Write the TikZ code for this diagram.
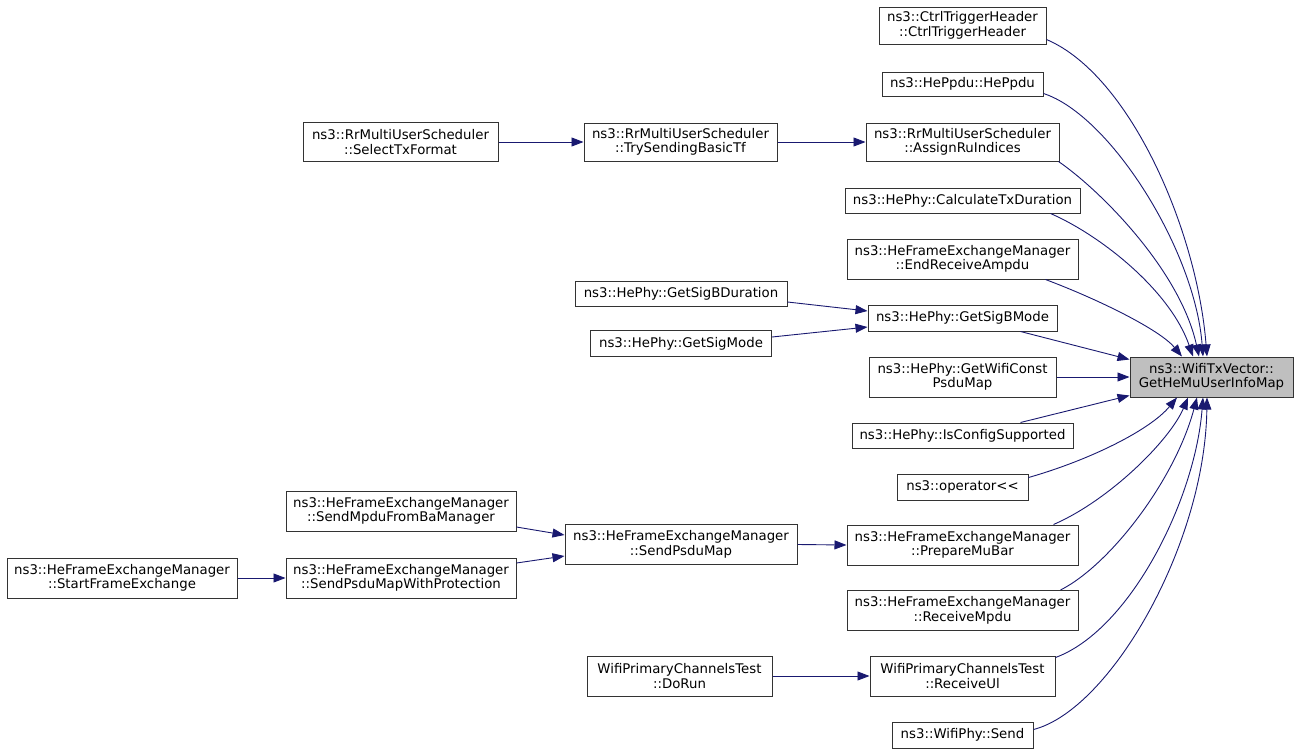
\documentclass[tikz,border=0pt]{standalone}
\usepackage{fontspec}
\setmainfont{DejaVu Sans}
\usetikzlibrary{arrows.meta}
\definecolor{edgecol}{HTML}{191970}
\definecolor{bordercol}{HTML}{333333}
\definecolor{tgtfill}{HTML}{BFBFBF}
\begin{document}
\begin{tikzpicture}[x=1pt,y=-1pt,
  box/.style={draw=bordercol,line width=1pt,fill=white,inner sep=0pt,align=center,
    font=\fontsize{13.3}{14.5}\selectfont,text=black},
  tbox/.style={box,fill=tgtfill},
  edge/.style={draw=edgecol,line width=0.9pt,-{Triangle[length=12pt,width=9pt]}}]
\useasboundingbox (0,0) rectangle (1299,753);
% right column (rank 1)
\node[box,minimum width=167pt,minimum height=37pt] (ctrl) at (962.5,25.5) {ns3::CtrlTriggerHeader\\::CtrlTriggerHeader};
\node[box,minimum width=161pt,minimum height=24pt] (heppdu) at (962.5,84) {ns3::HePpdu::HePpdu};
\node[box,minimum width=193pt,minimum height=38pt] (assign) at (962.5,142) {ns3::RrMultiUserScheduler\\::AssignRuIndices};
\node[box,minimum width=235pt,minimum height=25pt] (calc) at (962.5,200.5) {ns3::HePhy::CalculateTxDuration};
\node[box,minimum width=231pt,minimum height=40pt] (endrec) at (962.5,259) {ns3::HeFrameExchangeManager\\::EndReceiveAmpdu};
\node[box,minimum width=189pt,minimum height=26pt] (sigb) at (962.5,318) {ns3::HePhy::GetSigBMode};
\node[box,minimum width=187pt,minimum height=40pt] (wconst) at (962.5,377) {ns3::HePhy::GetWifiConst\\PsduMap};
\node[box,minimum width=221pt,minimum height=25pt] (iscfg) at (962.5,435.5) {ns3::HePhy::IsConfigSupported};
\node[box,minimum width=131pt,minimum height=26pt] (op) at (962.5,487) {ns3::operator<{}<};
\node[box,minimum width=231pt,minimum height=40pt] (prep) at (962.5,545) {ns3::HeFrameExchangeManager\\::PrepareMuBar};
\node[box,minimum width=231pt,minimum height=40pt] (recv) at (962.5,610.5) {ns3::HeFrameExchangeManager\\::ReceiveMpdu};
\node[box,minimum width=185pt,minimum height=40pt] (recvul) at (962.5,676) {WifiPrimaryChannelsTest\\::ReceiveUl};
\node[box,minimum width=141pt,minimum height=26pt] (send) at (962.5,735) {ns3::WifiPhy::Send};
% target
\node[tbox,minimum width=163pt,minimum height=40pt] (tgt) at (1211.5,377) {ns3::WifiTxVector::\\GetHeMuUserInfoMap};
% rank 2
\node[box,minimum width=193pt,minimum height=38pt] (trysend) at (680.5,142) {ns3::RrMultiUserScheduler\\::TrySendingBasicTf};
\node[box,minimum width=212pt,minimum height=25pt] (sigbdur) at (681,293.5) {ns3::HePhy::GetSigBDuration};
\node[box,minimum width=181pt,minimum height=26pt] (sigmode) at (681,343.5) {ns3::HePhy::GetSigMode};
\node[box,minimum width=232pt,minimum height=40pt] (sendpsdu) at (681,544.5) {ns3::HeFrameExchangeManager\\::SendPsduMap};
\node[box,minimum width=185pt,minimum height=40pt] (dorun) at (679.5,676) {WifiPrimaryChannelsTest\\::DoRun};
% rank 3
\node[box,minimum width=195pt,minimum height=39pt] (selecttx) at (400.5,142) {ns3::RrMultiUserScheduler\\::SelectTxFormat};
\node[box,minimum width=230pt,minimum height=40pt] (sendmpdu) at (401,511) {ns3::HeFrameExchangeManager\\::SendMpduFromBaManager};
\node[box,minimum width=230pt,minimum height=40pt] (sendprot) at (401,578) {ns3::HeFrameExchangeManager\\::SendPsduMapWithProtection};
% rank 4
\node[box,minimum width=230pt,minimum height=40pt] (startfe) at (122,578) {ns3::HeFrameExchangeManager\\::StartFrameExchange};

% edges into target (top)
\draw[edge] ([yshift=5pt]ctrl.south east) .. controls (1130,75) and (1197,230) .. ([xshift=-4.5pt]tgt.north);
\draw[edge] ([yshift=3pt]heppdu.south east) .. controls (1110,115) and (1195,250) .. ([xshift=-8.5pt]tgt.north);
\draw[edge] ([xshift=-1pt]assign.south east) .. controls (1100,190) and (1180,270) .. ([xshift=-12.5pt]tgt.north);
\draw[edge] ([xshift=-30pt]calc.south east) .. controls (1100,235) and (1170,290) .. ([xshift=-18.5pt]tgt.north);
\draw[edge] ([xshift=-33pt]endrec.south east) .. controls (1100,300) and (1160,330) .. ([xshift=-29.5pt]tgt.north);
% edges into target (left)
\draw[edge] ([xshift=-37pt]sigb.south east) -- ([yshift=-3pt]tgt.north west);
\draw[edge] (wconst.east) -- (tgt.west);
\draw[edge] ([xshift=-53pt]iscfg.north east) -- ([yshift=2pt]tgt.south west);
% edges into target (bottom)
\draw[edge] ([yshift=-4pt]op.north east) .. controls (1090,460) and (1150,430) .. ([xshift=-34.5pt]tgt.south);
\draw[edge] ([xshift=-25pt]prep.north east) .. controls (1110,500) and (1170,440) .. ([xshift=-23.5pt]tgt.south);
\draw[edge] ([xshift=-18pt]recv.north east) .. controls (1110,565) and (1175,480) .. ([xshift=-14.5pt]tgt.south);
\draw[edge] ([yshift=-2pt]recvul.north east) .. controls (1130,630) and (1195,500) .. ([xshift=-8.5pt]tgt.south);
\draw[edge] ([yshift=-8pt]send.north east) .. controls (1110,710) and (1205,545) .. ([xshift=-4.5pt]tgt.south);
% other edges
\draw[edge] (selecttx.east) -- (trysend.west);
\draw[edge] (trysend.east) -- (assign.west);
\draw[edge] ([yshift=-8.5pt]sigbdur.east) -- ([yshift=7pt]sigb.west);
\draw[edge] ([yshift=6.5pt]sigmode.east) -- ([yshift=-9pt]sigb.west);
\draw[edge] ([yshift=-16pt]sendmpdu.east) -- ([yshift=9.5pt]sendpsdu.west);
\draw[edge] ([yshift=15pt]sendprot.east) -- ([yshift=-11.5pt]sendpsdu.west);
\draw[edge] (startfe.east) -- (sendprot.west);
\draw[edge] (sendpsdu.east) -- (prep.west);
\draw[edge] (dorun.east) -- (recvul.west);
\end{tikzpicture}
\end{document}
